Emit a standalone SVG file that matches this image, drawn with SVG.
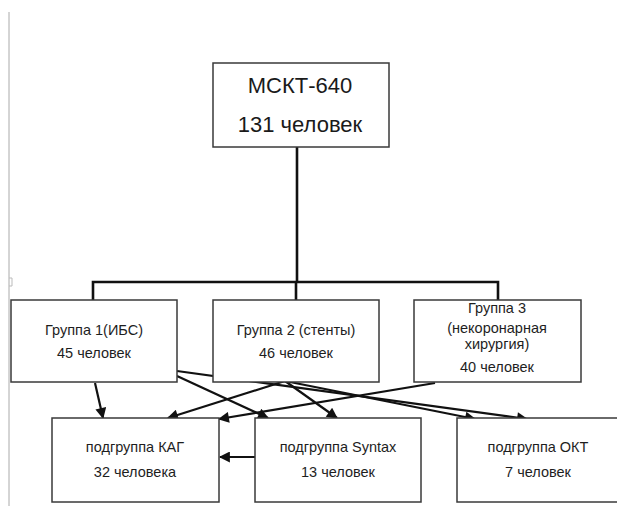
<svg xmlns="http://www.w3.org/2000/svg" width="617" height="506" viewBox="0 0 617 506">
<defs>
<style>
.box{fill:#fff;stroke:#3a3a3a;stroke-width:1.5}
.t{font-family:"Liberation Sans",Arial,sans-serif;font-size:14.5px;fill:#1e1e1e;text-anchor:middle}
.big{font-size:22px;fill:#1a1a1a}
.tree{fill:none;stroke:#111;stroke-width:2.6}
.arr{fill:none;stroke:#111;stroke-width:2.2;marker-end:url(#ah)}
</style>
<marker id="ah" viewBox="0 0 10 10" refX="9" refY="5" markerWidth="6" markerHeight="5" markerUnits="strokeWidth" orient="auto">
<path d="M0,0 L10,5 L0,10 Z" fill="#111"/>
</marker>
</defs>
<rect width="617" height="506" fill="#fff"/>
<g id="page-edge">
<line x1="9" y1="12" x2="9" y2="506" stroke="#aaa" stroke-width="1"/>
<path d="M9,278 H12 V286 H9" fill="none" stroke="#bbb" stroke-width="1"/>
</g>
<g id="connectors">
<path class="tree" d="M297,147 V282 M93,300 V282 H498 V300 M296,282 V300"/>
<line class="arr" x1="95" y1="383" x2="103" y2="418"/>
<line class="arr" x1="177" y1="376" x2="268" y2="418"/>
<line class="arr" x1="177" y1="371" x2="527" y2="419"/>
<line class="arr" x1="285" y1="381" x2="168" y2="418"/>
<line class="arr" x1="285" y1="381" x2="337" y2="418"/>
<line class="arr" x1="285" y1="381" x2="475" y2="419"/>
<line class="arr" x1="435" y1="383" x2="219" y2="419"/>
<line class="arr" x1="255" y1="457" x2="220" y2="457"/>
</g>
<g id="mskt">
<rect class="box" x="213" y="63" width="176" height="84"/>
<text class="t big" x="300" y="93">МСКТ-640</text>
<text class="t big" x="300" y="132">131 человек</text>
</g>
<g id="group1">
<rect class="box" x="11" y="300" width="166" height="82"/>
<text class="t" x="94" y="335">Группа 1(ИБС)</text>
<text class="t" x="94" y="358">45 человек</text>
</g>
<g id="group2">
<rect class="box" x="213" y="300" width="166" height="82"/>
<text class="t" x="296" y="335">Группа 2 (стенты)</text>
<text class="t" x="296" y="358">46 человек</text>
</g>
<g id="group3">
<rect class="box" x="414" y="300" width="167" height="82"/>
<text class="t" x="497" y="313">Группа 3</text>
<text class="t" x="497" y="333">(некоронарная</text>
<text class="t" x="497" y="349">хирургия)</text>
<text class="t" x="497" y="372">40 человек</text>
</g>
<g id="kag">
<rect class="box" x="52" y="418" width="167" height="84"/>
<text class="t" x="135" y="452">подгруппа КАГ</text>
<text class="t" x="135" y="477">32 человека</text>
</g>
<g id="syntax">
<rect class="box" x="255" y="418" width="166" height="84"/>
<text class="t" x="338" y="452">подгруппа Syntax</text>
<text class="t" x="338" y="477">13 человек</text>
</g>
<g id="okt">
<rect class="box" x="457" y="418" width="166" height="84"/>
<text class="t" x="538" y="452">подгруппа ОКТ</text>
<text class="t" x="538" y="477">7 человек</text>
</g>
</svg>
